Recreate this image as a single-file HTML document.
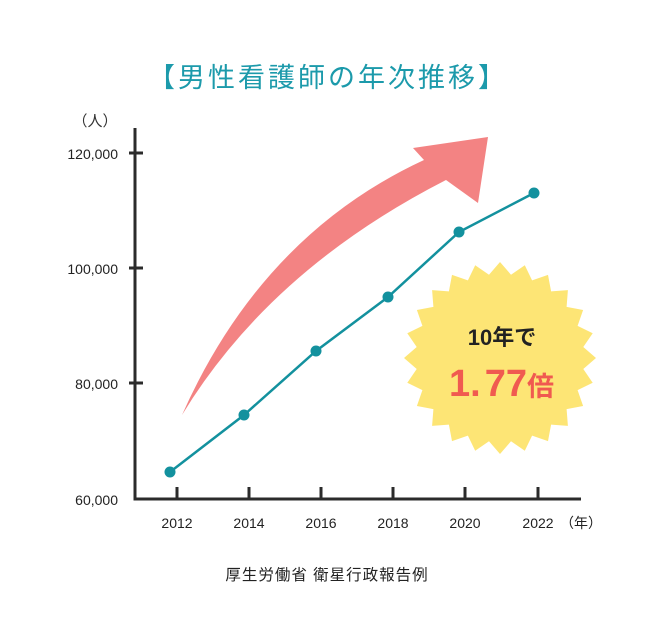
<!DOCTYPE html>
<html><head><meta charset="utf-8"><style>
body{margin:0;background:#fff;}
svg{display:block;font-family:"Liberation Sans","Noto Sans CJK JP",sans-serif;}
</style></head><body>
<svg width="653" height="630" viewBox="0 0 653 630" xmlns="http://www.w3.org/2000/svg">
<text x="328" y="87" text-anchor="middle" font-size="27" fill="#1c9aab" letter-spacing="3">【男性看護師の年次推移】</text>
<text x="95" y="126" text-anchor="middle" font-size="15" fill="#333">（人）</text>
<path d="M182,415 Q270,270 446,180 L478,203 L488,137 L413,148 L424,160 Q262,235 182,415 Z" fill="#f38383"/>
<g stroke="#2b2b2b" stroke-width="3" fill="none">
<path d="M135,128 V499 H581"/>
<path d="M129,153h14M129,268h14M129,383h14"/>
<path d="M177,499v-12M249,499v-12M321,499v-12M393,499v-12M465,499v-12M538,499v-12"/>
</g>
<g font-size="14" fill="#222" text-anchor="end">
<text x="118" y="159">120,000</text>
<text x="118" y="274">100,000</text>
<text x="118" y="389">80,000</text>
<text x="118" y="505">60,000</text>
</g>
<g font-size="14" fill="#222" text-anchor="middle">
<text x="177" y="528">2012</text><text x="249" y="528">2014</text><text x="321" y="528">2016</text>
<text x="393" y="528">2018</text><text x="465" y="528">2020</text><text x="538" y="528">2022</text>
</g>
<text x="560" y="528" font-size="14" fill="#222">（年）</text>
<polyline points="170,472 244,415 316,351 388,297 459,232 534,193" fill="none" stroke="#13919e" stroke-width="2.5"/>
<g fill="#13919e"><circle cx="170" cy="472" r="5.5"/><circle cx="244" cy="415" r="5.5"/><circle cx="316" cy="351" r="5.5"/><circle cx="388" cy="297" r="5.5"/><circle cx="459" cy="232" r="5.5"/><circle cx="534" cy="193" r="5.5"/></g>
<polygon fill="#fde575" points="596,358 583.3,369 592.7,382.8 577.6,390.1 583.1,406 566.6,409.1 567.9,425.9 551.1,424.6 548,441.1 532.1,435.6 524.8,450.7 511,441.3 500,454 489,441.3 475.2,450.7 467.9,435.6 452,441.1 448.9,424.6 432.1,425.9 433.4,409.1 416.9,406 422.4,390.1 407.3,382.8 416.7,369 404,358 416.7,347 407.3,333.2 422.4,325.9 416.9,310 433.4,306.9 432.1,290.1 448.9,291.4 452,274.9 467.9,280.4 475.2,265.3 489,274.7 500,262 511,274.7 524.8,265.3 532.1,280.4 548,274.9 551.1,291.4 567.9,290.1 566.6,306.9 583.1,310 577.6,325.9 592.7,333.2 583.3,347"/>
<text x="502" y="345" text-anchor="middle" font-size="22" font-weight="bold" fill="#222">10年で</text>
<text x="449" y="396" font-size="38" font-weight="bold" fill="#f05a50">1.<tspan dx="4">77</tspan><tspan font-size="27">倍</tspan></text>
<text x="327" y="580" text-anchor="middle" font-size="15.5" fill="#222" letter-spacing="1">厚生労働省 衛星行政報告例</text>
</svg>
</body></html>
